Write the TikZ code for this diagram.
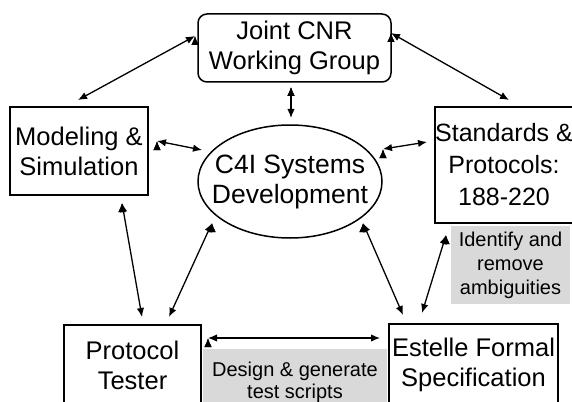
\documentclass[tikz,border=0pt]{standalone}
\usepackage{fontspec}
\setmainfont{Liberation Sans}
\usetikzlibrary{arrows.meta,shapes.geometric}
\definecolor{notegray}{gray}{0.85}

\begin{document}
\begin{tikzpicture}[x=1pt, y=-1pt,
    box/.style={draw, line width=1.5pt, align=center, inner sep=0pt,
      font=\fontsize{25.5}{30}\selectfont},
    note/.style={fill=notegray, align=center, inner sep=0pt,
      font=\fontsize{20}{24}\selectfont},
    link/.style={{Latex[length=9pt,width=7.5pt]}-{Latex[length=9pt,width=7.5pt]}, line width=1.3pt}]
  \useasboundingbox (0,0) rectangle (572,401);

  % grey remarks
  \node[note, minimum width=119pt, minimum height=78pt] at (510.5, 265) (idnote) {Identify and\\remove\\ambiguities};
  \node[note, minimum width=184pt, minimum height=66pt, font=\fontsize{20}{22}\selectfont] at (295, 382) (dsnote) {Design \& generate\\test scripts};

  % blocks
  \node[box, rounded corners=9pt, minimum width=193pt, minimum height=68pt] at (294.5, 48) (jcnr) {Joint CNR\\Working Group};
  \node[box, minimum width=138pt, minimum height=88pt] at (79, 151) (modsim) {Modeling \&\\Simulation};
  \node[box, minimum width=138pt, minimum height=116pt, font=\fontsize{25}{32}\selectfont] at (504, 165) (stdp) {Standards \&\\Protocols:\\188-220};
  \node[ellipse, draw, line width=1.5pt, minimum width=184pt, minimum height=113pt] at (290, 181.5) (c4i) {};
  \node[align=center, inner sep=0pt, font=\fontsize{26.5}{30}\selectfont] at (c4i.center) (c4itext) {C4I Systems\\Development};
  \node[box, minimum width=137pt, minimum height=80pt] at (132.5, 365) (tester) {Protocol\\Tester};
  \node[box, minimum width=169pt, minimum height=82pt] at (473.5, 365) (estelle) {Estelle Formal\\Specification};

  \draw[link] ([shift={(-99.5,-12)}]jcnr.center) edge ([shift={(-1,-51)}]modsim.center);
  \draw[link] ([shift={(96.5,-15)}]jcnr.center) edge ([shift={(5,-65)}]stdp.center);
  \draw[link] ([shift={(-3.5,39)}]jcnr.center) edge ([shift={(1,-63.5)}]c4i.center);
  \draw[link] ([shift={(78,-10)}]modsim.center) edge ([shift={(-88,-31.5)}]c4i.center);
  \draw[link] ([shift={(93,-32.5)}]c4i.center) edge ([shift={(-77,-23)}]stdp.center);
  \draw[link] ([shift={(43,52)}]modsim.center) edge ([shift={(9.5,-48)}]tester.center);
  \draw[link] ([shift={(-78,41.5)}]c4i.center) edge ([shift={(36.5,-48)}]tester.center);
  \draw[link] ([shift={(73,41.5)}]c4i.center) edge ([shift={(-70.5,-50)}]estelle.center);
  \draw[link] ([shift={(-58,70)}]stdp.center) edge ([shift={(-51.5,-52)}]estelle.center);
  \draw[link] ([shift={(75.5,-27)}]tester.center) edge ([shift={(-93.5,-27)}]estelle.center);
\end{tikzpicture}
\end{document}
